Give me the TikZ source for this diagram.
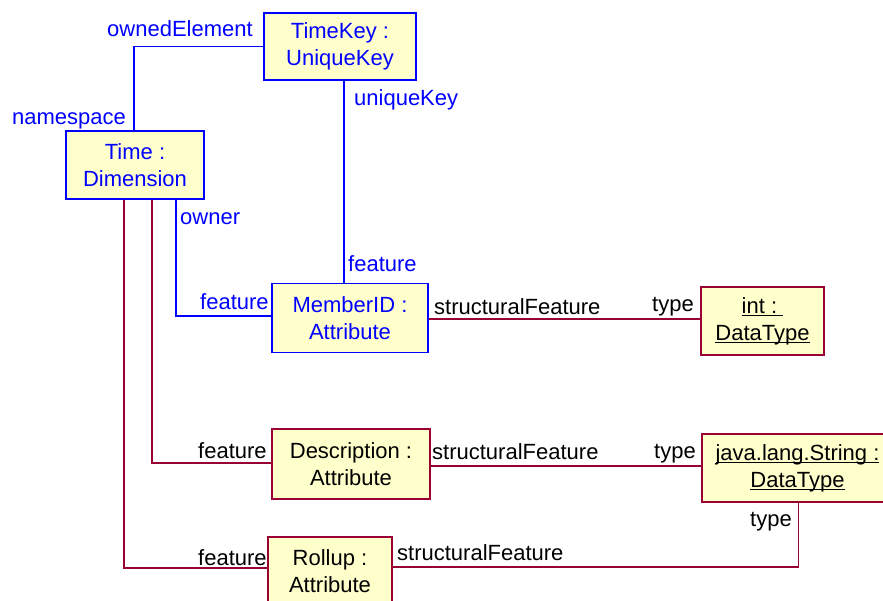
\documentclass[tikz,border=0pt]{standalone}
\usepackage{fontspec}
\setmainfont{Liberation Sans}
\definecolor{umlblue}{HTML}{0000FF}
\definecolor{umlred}{HTML}{990033}
\definecolor{umlfill}{HTML}{FFFFCC}
% underline drawn as a rule under the whole box of text
\newcommand\ulin[1]{\setbox0\hbox{#1}\rlap{\rule[-3pt]{\wd0}{1.3pt}}\box0}
\tikzset{
  obj/.style={draw, line width=1.8pt, fill=umlfill, align=center,
    inner sep=0pt, font=\fontsize{22}{27}\selectfont},
  blueobj/.style={obj, draw=umlblue, text=umlblue},
  redobj/.style={obj, draw=umlred, text=black},
  bluelink/.style={draw=umlblue, line width=1.8pt},
  redlink/.style={draw=umlred, line width=1.8pt},
  rolelabel/.style={anchor=base west, inner sep=0pt, font=\fontsize{22}{26}\selectfont},
  bluerole/.style={rolelabel, text=umlblue},
  redrole/.style={rolelabel, text=black},
}
\begin{document}
\begin{tikzpicture}[x=1pt, y=-1pt]
\useasboundingbox (0,0) rectangle (883,601);
\clip (0,0) rectangle (883,601);
\fill[white] (0,0) rectangle (883,601);

% objects
\node[blueobj, minimum width=152, minimum height=67] (tk) at (340,46.5) {TimeKey :\\UniqueKey};
\node[blueobj, minimum width=138, minimum height=68] (time) at (135,165) {Time :\\Dimension};
\node[blueobj, minimum width=156, minimum height=69] (mid) at (350,318) {MemberID :\\Attribute};
\node[redobj, minimum width=123, minimum height=68] (int) at (762.5,321) {\ulin{int :\ }\\\ulin{DataType}};
\node[redobj, minimum width=158, minimum height=70] (desc) at (351,464) {Description :\\Attribute};
\node[redobj, minimum width=191, minimum height=68] (str) at (797.5,468) {\ulin{java.lang.String :}\\\ulin{DataType}};
\node[redobj, minimum width=124, minimum height=68] (roll) at (330,571) {Rollup :\\Attribute};

% associations
\draw[bluelink] (tk.west) -| ([xshift=-1]time.north);
\draw[bluelink] ([xshift=4]tk.south) -- ([xshift=4]tk.south |- mid.north);
\draw[bluelink] ([xshift=41]time.south) |- ([yshift=2]mid.west);
\draw[redlink] ([xshift=17]time.south) |- ([yshift=1]desc.west);
\draw[redlink] ([xshift=-11]time.south) |- ([yshift=3]roll.west);
\draw[redlink] ([yshift=-1]mid.east) -- ([yshift=-1]mid.east -| int.west);
\draw[redlink] ([yshift=-2]desc.east) -- ([yshift=-2]desc.east -| str.west);
\draw[redlink] ([yshift=4]roll.east) -| ([xshift=1]str.south);

% role names
\node[bluerole] (l1) at (107,37) {ownedElement};
\node[bluerole] (l2) at (12,125) {namespace};
\node[bluerole] (l3) at (354,106) {uniqueKey};
\node[bluerole] (l4) at (180,225) {owner};
\node[bluerole] (l5) at (348,272) {feature};
\node[bluerole] (l6) at (200,310) {feature};
\node[redrole] (l7) at (434,315) {structuralFeature};
\node[redrole] (l8) at (652,312) {type};
\node[redrole] (l9) at (198,458) {feature};
\node[redrole] (l10) at (432,459) {structuralFeature};
\node[redrole] (l11) at (654,458) {type};
\node[redrole] (l12) at (750,526) {type};
\node[redrole] (l13) at (198,565) {feature};
\node[redrole] (l14) at (397,560) {structuralFeature};
\end{tikzpicture}
\end{document}
